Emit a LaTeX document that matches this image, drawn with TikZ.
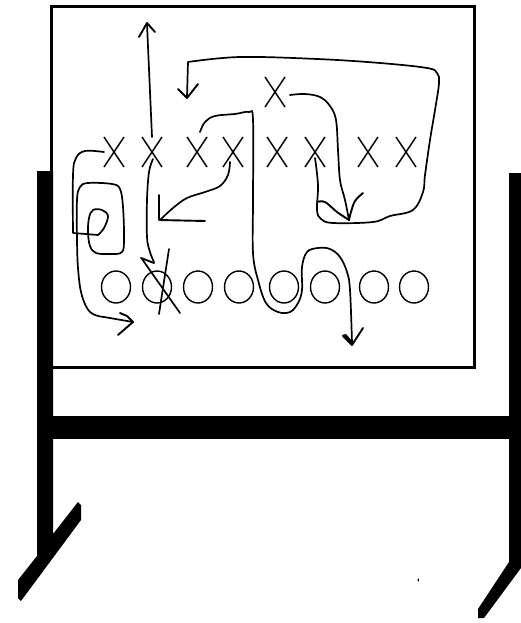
\documentclass[tikz,border=0pt]{standalone}
\usepackage{tikz}
\usetikzlibrary{shapes.geometric,shapes.misc,calc}
\tikzset{
  board/.style={draw, line width=3pt},
  stand/.style={fill=black},
  defx/.style={draw, cross out, line width=1.4pt, minimum width=20pt, minimum height=30pt, inner sep=0pt, outer sep=0pt},
  offo/.style={draw, ellipse, line width=1.4pt, minimum width=29pt, minimum height=32pt, inner sep=0pt},
  route/.style={line width=1.7pt, line cap=round, line join=round},
  headarm/.style={route, line width=1.9pt},
}

\begin{document}
\begin{tikzpicture}[x=1pt, y=-1pt]
  \fill[white] (0,0) rectangle (520,623);
  \useasboundingbox (0,0) rectangle (520,623);

  \fill[stand] (37,171) -- (53,171) -- (53,534) -- (78,502) -- (81,505) -- (81,520) -- (21,601) -- (18,598) -- (18,580) -- (37,556) -- cycle;
  \fill[stand] (509,173) -- (521,173) -- (521,568) -- (484,618) -- (478,618) -- (478,609) -- (509,562) -- cycle;
  \fill[stand] (52,416) rectangle (510,439);
  \fill[stand] (418.3,580) ellipse (0.8 and 1.8);
  \draw[board] (51.5,6.5) rectangle (474.5,367);

  \node[defx] (x0) at (275,92) {};
  \node[defx] (x1) at (114,152) {};
  \node[defx] (x2) at (152,152) {};
  \node[defx] (x3) at (197,152) {};
  \node[defx] (x4) at (233,152) {};
  \node[defx] (x5) at (277,152) {};
  \node[defx] (x6) at (315,152) {};
  \node[defx] (x7) at (368,152) {};
  \node[defx] (x8) at (406,152) {};

  \node[offo] (o1) at (116,287) {};
  \node[offo] (o2) at (157,287) {};
  \node[offo] (o3) at (198,287) {};
  \node[offo] (o4) at (239,287) {};
  \node[offo] (o5) at (284,287) {};
  \node[offo] (o6) at (325,287) {};
  \node[offo] (o7) at (374,287) {};
  \node[offo] (o8) at (414,287) {};

  \draw[route] (x2.north) -- (147,24);
  \draw[headarm] (139,37) -- (147,23) -- (155,32);

  \draw[route] plot[smooth, tension=0.6] coordinates {($(x2)+(1,7)$) (149,172) (147,200) (147,237) (150,252) (154,262)};
  \draw[headarm] (141,258) -- (154,263);
  \draw[route] (142,259) -- (180,313);
  \draw[route] (169,249) -- (159,314);

  \draw[route] plot[smooth, tension=0.6] coordinates {(x1.west) (85,151) (76,158) (73,175) (73,233)} -- (98,235)
    plot[smooth, tension=0.6] coordinates {(98,235) (104,228) (108,216) (102,210) (93,210) (89,218) (88,232) (90,246) (96,253) (110,254) (122,252) (124,238) (123,207) (120,189) (112,184) (88,183) (80,187) (77,200) (77,240) (78,268) (81,292) (87,308) (95,315) (110,318) (133,322)};
  \draw[headarm] (120,313) -- (127,316) -- (133,322) -- (118,335);

  \draw[route] plot[smooth, tension=0.6] coordinates {($(x4)+(-3,10)$) (228,175) (220,186) (205,192) (187,198) (173,208) (160,220)};
  \draw[headarm] (159,195) -- (159,220) -- (205,221);

  \draw[route] plot[smooth, tension=0.6] coordinates {($(x3)+(3,-20)$) (205,122) (215,116) (235,114) (249,112) (253,120) (253,200) (253,253) (258,280) (266,303) (278,312) (290,312) (298,303) (302,290) (302,267) (307,252) (318,248) (330,249) (340,257) (347,272) (350,290) (352,343)};
  \draw[headarm] (343,336) -- (352,345) -- (363,328);
  \fill (342,335) -- (346,334) -- (352,341) -- (352,346) -- cycle;

  \draw[route] plot[smooth, tension=0.6] coordinates {($(x0.east)+(5,3)$) (305,94) (320,97) (330,106) (336,120) (338,150) (340,180) (345,200) (349,220)};
  \draw[headarm] plot[smooth, tension=0.6] coordinates {(363,193) (355,201) (351,212) (349,220)};
  \draw[headarm] plot[smooth, tension=0.6] coordinates {(317,202) (325,202) (337,212) (349,220)};

  \draw[route] plot[smooth, tension=0.6] coordinates {($(x6)+(0,6)$) (318,185) (317,210) (321,219) (333,223) (373,222) (390,216) (413,210) (423,192) (425,175) (430,140) (435,110) (439,83) (437,73) (427,68) (380,63) (317,59) (240,57) (188,62)} -- (187,97);
  \draw[headarm] (178,89) -- (187,98) -- (198,84);
\end{tikzpicture}
\end{document}
